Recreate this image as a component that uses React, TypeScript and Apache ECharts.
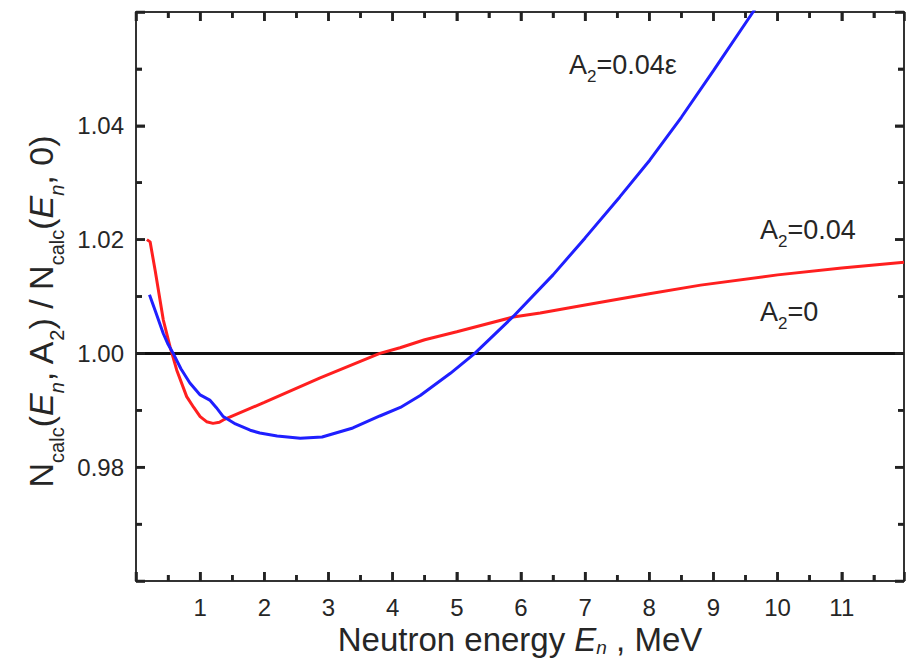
import React, { useEffect, useRef } from "react";
import * as echarts from "echarts";

// Neutron energy (MeV) and ratio N_calc(En, A2) / N_calc(En, 0)
const redEnergy = [0.17, 0.22, 0.3, 0.425, 0.53, 0.634, 0.79, 0.9, 1.0, 1.1, 1.2, 1.3, 1.36, 2.0, 2.87, 3.8, 4.115, 4.5, 5.0, 5.88, 6.3, 7.0, 8.0, 8.8, 10.0, 11.0, 11.97];
const redRatio = [1.02, 1.0196, 1.0145, 1.0059, 1.0012, 0.9971, 0.9924, 0.9905, 0.9889, 0.988, 0.9877, 0.9879, 0.9883, 0.9914, 0.9957, 1.0, 1.001, 1.0024, 1.0038, 1.0064, 1.0071, 1.0085, 1.0105, 1.012, 1.0138, 1.015, 1.016];

const blueEnergy = [0.21, 0.3, 0.425, 0.5, 0.58, 0.7, 0.84, 1.0, 1.15, 1.25, 1.36, 1.55, 1.78, 1.93, 2.2, 2.56, 2.9, 3.38, 3.8, 4.12, 4.43, 4.9, 5.28, 5.88, 6.5, 7.0, 7.54, 8.01, 8.5, 9.0, 9.617, 9.7];
const blueRatio = [1.0103, 1.0075, 1.0035, 1.0016, 1.0, 0.9973, 0.9948, 0.9927, 0.9918, 0.9905, 0.9889, 0.9876, 0.9865, 0.986, 0.9855, 0.9851, 0.9853, 0.9869, 0.989, 0.9905, 0.9926, 0.9965, 1.0, 1.0065, 1.0138, 1.0203, 1.0275, 1.034, 1.0415, 1.0497, 1.06, 1.0614];

const baseEnergy = [0, 11.97];
const baseRatio = [1.0, 1.0];

const xMin = 0;
const xMax = 11.97;
const xStep = 1;
const yMin = 0.96;
const yMax = 1.06;
const yStep = 0.02;

const seriesLabels = ["A{s|2}=0.04ε", "A{s|2}=0.04", "A{s|2}=0"];

const FONT = "'Liberation Sans', Arial, Helvetica, sans-serif";
const AXIS_COLOR = "#333333";
const TICK_COLOR = "#222222";
const TEXT_COLOR = "#262626";
const MAJOR_LEN = 9;
const MINOR_LEN = 6;
const TICK_W = 2.5;

// tick values derived from the axis ranges and steps (major and half-step minor)
function tickValues(min: number, max: number, step: number) {
  const out: { v: number; major: boolean }[] = [];
  for (let i = 0; min + (i / 2) * step <= max + 1e-9; i++) {
    out.push({ v: +(min + (i / 2) * step).toFixed(6), major: i % 2 === 0 });
  }
  return out;
}

function makeAxisLine() {
  return { show: true, onZero: false, lineStyle: { color: AXIS_COLOR, width: 2 } };
}
function makeTick() {
  return { show: true, inside: true, length: MAJOR_LEN, lineStyle: { color: TICK_COLOR, width: TICK_W } };
}
function makeMinor() {
  return { show: true, splitNumber: 2, length: MINOR_LEN, lineStyle: { color: TICK_COLOR, width: TICK_W } };
}

export default function App() {
  const ref = useRef<HTMLDivElement>(null);

  useEffect(() => {
    if (!ref.current) return;
    const chart = echarts.init(ref.current, undefined, { renderer: "svg" });

    const labelGraphics = [
      { pos: [569, 45] },
      { pos: [760, 210] },
      { pos: [760, 292] },
    ].map((g, i) => ({
      id: "lbl" + i,
      type: "text",
      x: g.pos[0],
      y: g.pos[1],
      silent: true,
      z: 20,
      style: {
        text: seriesLabels[i],
        fontSize: 27,
        fontFamily: FONT,
        fill: TEXT_COLOR,
        lineHeight: 40,
        rich: {
          s: { fontSize: 17, fontFamily: FONT, fill: TEXT_COLOR, lineHeight: 14, verticalAlign: "bottom" },
        },
      },
    }));

    const option: any = {
      animation: false,
      backgroundColor: "#ffffff",
      grid: { left: 136, right: 7, top: 12, bottom: 81, containLabel: false, outerBoundsMode: "none" },
      xAxis: [
        {
          type: "value",
          min: xMin,
          max: xMax,
          interval: xStep,
          position: "bottom",
          axisLine: makeAxisLine(),
          axisTick: makeTick(),
          minorTick: makeMinor(),
          splitLine: { show: false },
          axisLabel: {
            show: true,
            showMinLabel: false,
            showMaxLabel: false,
            fontSize: 24,
            lineHeight: 24,
            fontFamily: FONT,
            color: TEXT_COLOR,
            margin: 14,
          },
          name: "Neutron energy {it|E}{s|n} , MeV",
          nameLocation: "middle",
          nameGap: 40,
          nameMoveOverlap: false,
          nameTextStyle: {
            fontSize: 33,
            fontFamily: FONT,
            color: TEXT_COLOR,
            lineHeight: 36,
            verticalAlign: "top",
            rich: {
              it: { fontSize: 33, fontFamily: FONT, fontStyle: "italic", color: TEXT_COLOR, lineHeight: 36 },
              s: { fontSize: 19, fontFamily: FONT, fontStyle: "italic", color: TEXT_COLOR, lineHeight: 2, verticalAlign: "bottom" },
            },
          },
        },
        {
          type: "value",
          min: xMin,
          max: xMax,
          interval: xStep,
          position: "top",
          axisLine: makeAxisLine(),
          axisTick: makeTick(),
          minorTick: makeMinor(),
          splitLine: { show: false },
          axisLabel: { show: false },
        },
      ],
      yAxis: [
        {
          type: "value",
          min: yMin,
          max: yMax,
          interval: yStep,
          position: "left",
          axisLine: makeAxisLine(),
          axisTick: makeTick(),
          minorTick: makeMinor(),
          splitLine: { show: false },
          axisLabel: {
            show: true,
            showMinLabel: false,
            showMaxLabel: false,
            fontSize: 24,
            fontFamily: FONT,
            color: TEXT_COLOR,
            margin: 12,
            formatter: (v: number) => v.toFixed(2),
          },
          name: "N{s|calc}({it|E}{si|n}, A{s|2}) / N{s|calc}({it|E}{si|n}, 0)",
          nameLocation: "middle",
          nameRotate: 90,
          nameGap: 69,
          nameMoveOverlap: false,
          nameTextStyle: {
            fontSize: 34,
            fontFamily: FONT,
            color: TEXT_COLOR,
            lineHeight: 52,
            padding: [0, 30, 0, 0],
            rich: {
              it: { fontSize: 34, fontFamily: FONT, fontStyle: "italic", color: TEXT_COLOR, lineHeight: 52 },
              s: { fontSize: 20, fontFamily: FONT, color: TEXT_COLOR, lineHeight: 18, verticalAlign: "bottom" },
              si: { fontSize: 20, fontFamily: FONT, fontStyle: "italic", color: TEXT_COLOR, lineHeight: 18, verticalAlign: "bottom" },
            },
          },
        },
        {
          type: "value",
          min: yMin,
          max: yMax,
          interval: yStep,
          position: "right",
          axisLine: makeAxisLine(),
          axisTick: makeTick(),
          minorTick: makeMinor(),
          splitLine: { show: false },
          axisLabel: { show: false },
        },
      ],
      series: [
        {
          type: "line",
          name: "A2=0",
          data: baseEnergy.map((e, i) => [e, baseRatio[i]]),
          showSymbol: false,
          symbol: "none",
          lineStyle: { color: "#111111", width: 3 },
          z: 2,
        },
        {
          type: "line",
          name: "A2=0.04",
          data: redEnergy.map((e, i) => [e, redRatio[i]]),
          showSymbol: false,
          symbol: "none",
          lineStyle: { color: "#ff1f1f", width: 3 },
          z: 3,
        },
        {
          type: "line",
          name: "A2=0.04ε",
          data: blueEnergy.map((e, i) => [e, blueRatio[i]]),
          showSymbol: false,
          symbol: "none",
          clip: true,
          lineStyle: { color: "#1f1fff", width: 3 },
          z: 4,
        },
      ],
      graphic: labelGraphics,
    };

    chart.setOption(option);

    // Tick marks placed through the chart's own scales (inward, on all four sides)
    const toPx = (x: number, y: number) => chart.convertToPixel({ gridIndex: 0 }, [x, y]) as number[];
    const tickRects: any[] = [];
    tickValues(xMin, xMax, xStep).forEach((t, i) => {
      const len = t.major ? MAJOR_LEN : MINOR_LEN;
      const b = toPx(t.v, yMin);
      const top = toPx(t.v, yMax);
      if (!b || !top) return;
      tickRects.push({ id: "xb" + i, type: "rect", silent: true, z: 15, shape: { x: b[0] - TICK_W / 2, y: b[1] - len, width: TICK_W, height: len }, style: { fill: TICK_COLOR } });
      tickRects.push({ id: "xt" + i, type: "rect", silent: true, z: 15, shape: { x: top[0] - TICK_W / 2, y: top[1], width: TICK_W, height: len }, style: { fill: TICK_COLOR } });
    });
    tickValues(yMin, yMax, yStep).forEach((t, i) => {
      const len = t.major ? MAJOR_LEN : MINOR_LEN;
      const l = toPx(xMin, t.v);
      const r = toPx(xMax, t.v);
      if (!l || !r) return;
      tickRects.push({ id: "yl" + i, type: "rect", silent: true, z: 15, shape: { x: l[0], y: l[1] - TICK_W / 2, width: len, height: TICK_W }, style: { fill: TICK_COLOR } });
      tickRects.push({ id: "yr" + i, type: "rect", silent: true, z: 15, shape: { x: r[0] - len, y: r[1] - TICK_W / 2, width: len, height: TICK_W }, style: { fill: TICK_COLOR } });
    });
    chart.setOption({ graphic: [...labelGraphics, ...tickRects] });

    return () => chart.dispose();
  }, []);

  return <div ref={ref} style={{ width: 911, height: 662, position: "absolute", left: 0, top: 0 }} />;
}
